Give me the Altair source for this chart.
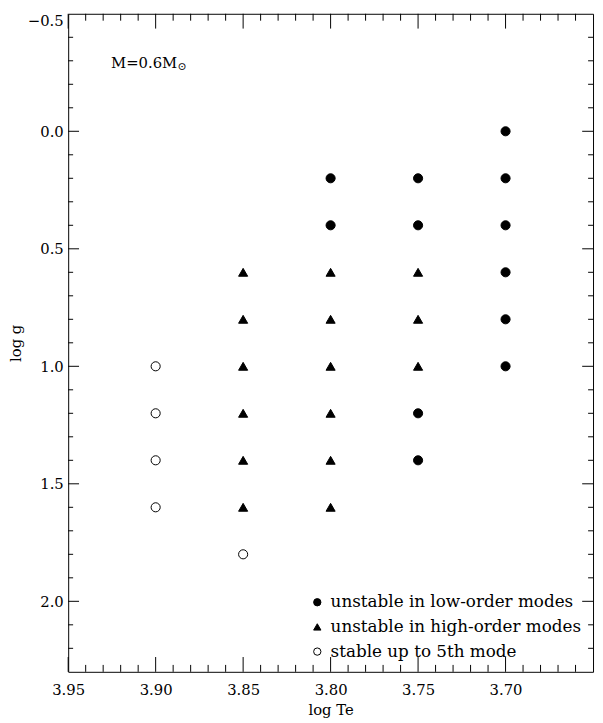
import altair as alt
import pandas as pd

# ---- data ----
logte = [3.70, 3.70, 3.70, 3.70, 3.70, 3.70,
         3.75, 3.75, 3.75, 3.75, 3.75, 3.75, 3.75,
         3.80, 3.80, 3.80, 3.80, 3.80, 3.80, 3.80, 3.80,
         3.85, 3.85, 3.85, 3.85, 3.85, 3.85, 3.85,
         3.90, 3.90, 3.90, 3.90]
logg = [0.0, 0.2, 0.4, 0.6, 0.8, 1.0,
        0.2, 0.4, 0.6, 0.8, 1.0, 1.2, 1.4,
        0.2, 0.4, 0.6, 0.8, 1.0, 1.2, 1.4, 1.6,
        0.6, 0.8, 1.0, 1.2, 1.4, 1.6, 1.8,
        1.0, 1.2, 1.4, 1.6]
LOW = "unstable in low-order modes"
HIGH = "unstable in high-order modes"
STAB = "stable up to 5th mode"
cls = [LOW] * 6 + \
      [LOW, LOW, HIGH, HIGH, HIGH, LOW, LOW] + \
      [LOW, LOW, HIGH, HIGH, HIGH, HIGH, HIGH, HIGH] + \
      [HIGH, HIGH, HIGH, HIGH, HIGH, HIGH, STAB] + \
      [STAB] * 4
classes = [LOW, HIGH, STAB]
shapes = ["circle", "triangle-up", "circle"]
fills = ["black", "black", "white"]
strokes = ["black", "black", "black"]

x_major = [3.95, 3.90, 3.85, 3.80, 3.75, 3.70]
x_minor = [3.94, 3.93, 3.92, 3.91, 3.89, 3.88, 3.87, 3.86, 3.84, 3.83, 3.82, 3.81,
           3.79, 3.78, 3.77, 3.76, 3.74, 3.73, 3.72, 3.71, 3.69, 3.68, 3.67, 3.66]
y_major = [-0.5, 0.0, 0.5, 1.0, 1.5, 2.0]
y_minor = [-0.4, -0.3, -0.2, -0.1, 0.1, 0.2, 0.3, 0.4, 0.6, 0.7, 0.8, 0.9,
           1.1, 1.2, 1.3, 1.4, 1.6, 1.7, 1.8, 1.9, 2.1, 2.2]

ann_text = ["M=0.6M"]
ann_x = [3.9255]
ann_y = [-0.29]
sub_text = ["⊙"]
sub_x = [3.8875]
sub_y = [-0.272]

W, H = 532, 667
FONT = "DejaVu Serif"

df = pd.DataFrame({"x": logte, "y": logg, "cls": cls})

xs = alt.Scale(domain=[3.65, 3.95], reverse=True, nice=False, zero=False)
ys = alt.Scale(domain=[-0.5, 2.3], reverse=True, nice=False, zero=False)
xaxis = alt.Axis(values=x_major, format=".2f", title="log Te", labelPadding=11,
                 titlePadding=5, labelFlush=False)
yaxis = alt.Axis(values=y_major, format=".1f", title="log g", labelPadding=5,
                 titlePadding=4, labelFlush=True)
X = alt.X("x:Q", scale=xs, axis=xaxis)
Y = alt.Y("y:Q", scale=ys, axis=yaxis)

leg = alt.Legend(title=None, orient="none", legendX=244, legendY=588,
                 symbolStrokeColor="black", symbolStrokeWidth=1)

points = alt.Chart(df).mark_point(size=85, strokeWidth=1, opacity=1).encode(
    x=X, y=Y,
    shape=alt.Shape("cls:N", scale=alt.Scale(domain=classes, range=shapes), legend=leg),
    fill=alt.Fill("cls:N", scale=alt.Scale(domain=classes, range=fills), legend=leg),
    stroke=alt.Stroke("cls:N", scale=alt.Scale(domain=classes, range=strokes), legend=leg),
)

def xticks(vals, length):
    d = pd.DataFrame({"x": vals})
    bot = alt.Chart(d).mark_rule(color="black", strokeWidth=1).encode(
        x=X, y=alt.value(H), y2=alt.value(H - length))
    top = alt.Chart(d).mark_rule(color="black", strokeWidth=1).encode(
        x=X, y=alt.value(0), y2=alt.value(length))
    return [bot, top]

def yticks(vals, length):
    d = pd.DataFrame({"y": vals})
    left = alt.Chart(d).mark_rule(color="black", strokeWidth=1).encode(
        y=Y, x=alt.value(0), x2=alt.value(length))
    right = alt.Chart(d).mark_rule(color="black", strokeWidth=1).encode(
        y=Y, x=alt.value(W), x2=alt.value(W - length))
    return [left, right]

ann = alt.Chart(pd.DataFrame({"x": ann_x, "y": ann_y, "t": ann_text})).mark_text(
    font=FONT, fontSize=15, align="left", baseline="middle", color="black").encode(
    x=X, y=Y, text="t:N")
sub = alt.Chart(pd.DataFrame({"x": sub_x, "y": sub_y, "t": sub_text})).mark_text(
    font=FONT, fontSize=11, align="left", baseline="middle", color="black").encode(
    x=X, y=Y, text="t:N")

layers = [points] + xticks(x_major, 15) + xticks(x_minor, 7) + \
         yticks(y_major[1:], 11) + yticks(y_minor, 5) + [ann, sub]

chart = alt.layer(*layers).properties(
    width=W, height=H,
    autosize=alt.AutoSizeParams(type="none"),
    padding={"left": 61, "top": 1, "right": 2, "bottom": 46},
).configure_view(
    stroke="black", strokeWidth=1
).configure_axis(
    labelFont=FONT, titleFont=FONT, labelFontSize=15, titleFontSize=15,
    titleFontWeight="normal", labelColor="black", titleColor="black",
    grid=False, ticks=False, domain=False
).configure_legend(
    labelFont=FONT, labelFontSize=17, labelColor="black", labelOffset=5,
    symbolSize=55, rowPadding=7, padding=0, labelLimit=400
)

chart.save("out.html", embed_options={"renderer": "svg", "actions": False})
